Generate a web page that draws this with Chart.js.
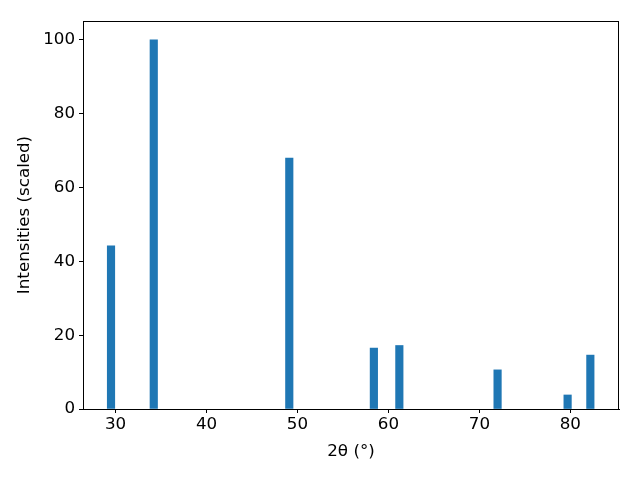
<!DOCTYPE html>
<html>
<head>
<meta charset="utf-8">
<script src="https://cdn.jsdelivr.net/npm/chart.js@4/dist/chart.umd.min.js"></script>
<style>
  html, body { margin: 0; padding: 0; background: #fff; }
  #wrap { width: 640px; height: 480px; }
</style>
</head>
<body>
<div id="wrap"><canvas id="xrdChart" width="640" height="480"></canvas></div>
<script>
// peak positions (2 theta, degrees) and scaled intensities
const peakPositions = [29.5, 34.2, 49.1, 58.4, 61.2, 72.0, 79.7, 82.2];
const peakIntensities = [44.2, 100, 68.0, 16.5, 17.2, 10.6, 3.8, 14.6];
const xTicks = [30, 40, 50, 60, 70, 80];
const yTicks = [0, 20, 40, 60, 80, 100];

Chart.defaults.font.family = "'DejaVu Sans', sans-serif";
Chart.defaults.font.size = 16.7;
Chart.defaults.color = "#000";

// draws the top and right sides of the axes box, like matplotlib
const frameBox = {
  id: "frameBox",
  afterDraw(chart) {
    const { ctx, chartArea: a } = chart;
    ctx.save();
    ctx.strokeStyle = "#000";
    ctx.lineWidth = 1;
    ctx.strokeRect(a.left + 0.5, a.top + 0.5, a.right - a.left - 1, a.bottom - a.top);
    ctx.restore();
  },
};

const ctx = document.getElementById("xrdChart").getContext("2d");
new Chart(ctx, {
  type: "bar",
  data: {
    datasets: [
      {
        data: peakPositions.map((x, i) => ({ x: x, y: peakIntensities[i] })),
        backgroundColor: "#1f77b4",
        borderWidth: 0,
        barThickness: 7.5,
      },
    ],
  },
  options: {
    responsive: false,
    animation: false,
    layout: { padding: { top: 21, right: 21, left: 0, bottom: 0 } },
    plugins: {
      legend: { display: false },
      tooltip: { enabled: false },
    },
    scales: {
      x: {
        type: "linear",
        offset: false,
        min: 26.42,
        max: 85.35,
        afterBuildTicks: (scale) => {
          scale.ticks = xTicks.map((v) => ({ value: v }));
        },
        afterFit: (scale) => {
          scale.height = 71;
        },
        grid: {
          offset: false,
          drawOnChartArea: false,
          drawTicks: true,
          tickLength: 4,
          color: "#000",
        },
        border: { display: true, color: "#000" },
        ticks: { padding: 2, maxRotation: 0 },
        title: {
          display: true,
          text: "2θ (°)",
          padding: { top: 4, bottom: 18 },
        },
      },
      y: {
        min: 0,
        max: 105.1,
        afterBuildTicks: (scale) => {
          scale.ticks = yTicks.map((v) => ({ value: v }));
        },
        afterFit: (scale) => {
          scale.width = 83;
        },
        grid: {
          drawOnChartArea: false,
          drawTicks: true,
          tickLength: 4,
          color: "#000",
        },
        border: { display: true, color: "#000" },
        ticks: { padding: 4 },
        title: {
          display: true,
          text: "Intensities (scaled)",
          padding: { top: 15 },
        },
      },
    },
  },
  plugins: [frameBox],
});
</script>
</body>
</html>
